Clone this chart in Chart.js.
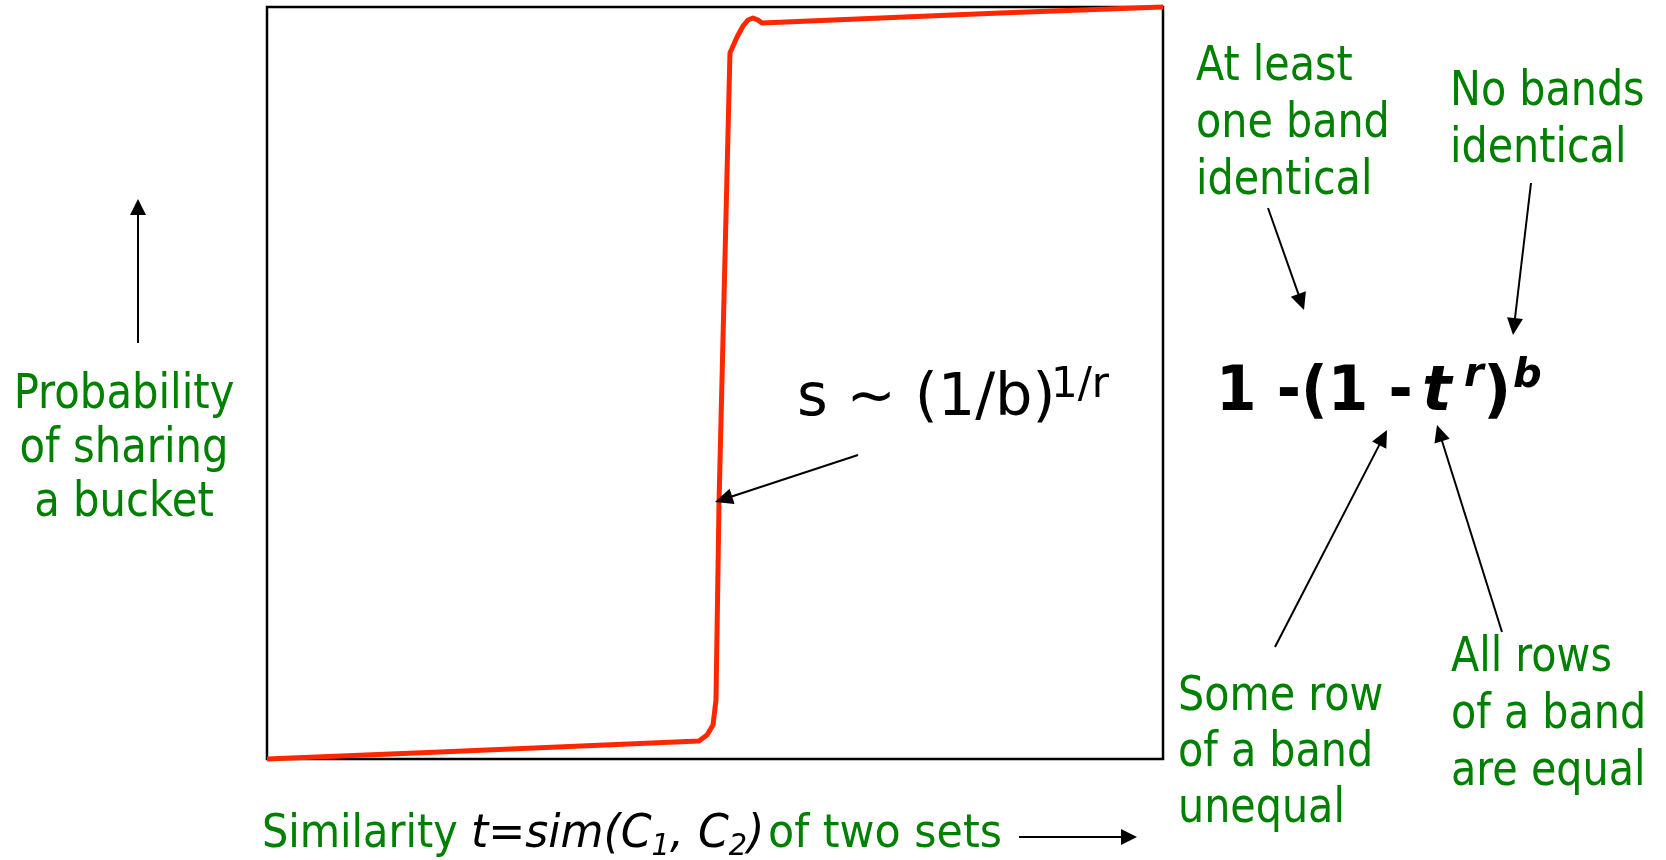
<!DOCTYPE html>
<html>
<head>
<meta charset="utf-8">
<script src="https://cdn.jsdelivr.net/npm/chart.js@4.4.1/dist/chart.umd.min.js"></script>
<style>
  html, body { margin: 0; padding: 0; background: #fff; }
  #wrap { width: 1666px; height: 860px; }
</style>
</head>
<body>
<div id="wrap"><canvas id="lsh" width="1666" height="860"></canvas></div>
<script>
// S-curve of LSH banding (similarity t vs probability)
const simT = [0, 0.1931, 0.4821, 0.4911, 0.4978, 0.5011, 0.5045, 0.5167, 0.5246, 0.5313, 0.5368, 0.5424, 0.548, 0.5525, 0.8181, 1.0];
const probShare = [0, 0.0093, 0.0239, 0.0319, 0.0452, 0.0785, 0.3418, 0.9388, 0.9601, 0.9747, 0.9827, 0.9854, 0.9827, 0.9787, 0.992, 1.0];

const GREEN = '#008000';
const greenFont = '48px "DejaVu Sans"';
const squeeze = 0.86;

function txt(ctx, s, x, y, font, color, sx, align) {
    ctx.save();
    ctx.font = font;
    ctx.fillStyle = color;
    ctx.textBaseline = 'alphabetic';
    ctx.translate(x, y);
    ctx.scale(sx || 1, 1);
    ctx.textAlign = align || 'left';
    ctx.fillText(s, 0, 0);
    ctx.restore();
}

// runs of [text, font, color, dy, sx, dx] laid out left to right, returns end x
function run(ctx, x, y, parts) {
    parts.forEach(p => {
        ctx.font = p[1];
        const sx = p[4] || 1;
        x += p[5] || 0;
        const w = ctx.measureText(p[0]).width * sx;
        txt(ctx, p[0], x, y + (p[3] || 0), p[1], p[2], sx);
        x += w;
    });
    return x;
}

function arrow(ctx, x1, y1, x2, y2, len, half) {
    const a = Math.atan2(y2 - y1, x2 - x1);
    ctx.save();
    ctx.strokeStyle = '#000';
    ctx.fillStyle = '#000';
    ctx.lineWidth = 2;
    ctx.beginPath();
    ctx.moveTo(x1, y1);
    ctx.lineTo(x2 - Math.cos(a) * len * 0.8, y2 - Math.sin(a) * len * 0.8);
    ctx.stroke();
    ctx.beginPath();
    ctx.moveTo(x2, y2);
    ctx.lineTo(x2 - Math.cos(a) * len - Math.sin(a) * half, y2 - Math.sin(a) * len + Math.cos(a) * half);
    ctx.lineTo(x2 - Math.cos(a) * len + Math.sin(a) * half, y2 - Math.sin(a) * len - Math.cos(a) * half);
    ctx.closePath();
    ctx.fill();
    ctx.restore();
}

const frame = {
    id: 'frame',
    beforeDatasetsDraw(chart) {
        const a = chart.chartArea, ctx = chart.ctx;
        ctx.save();
        ctx.strokeStyle = '#000';
        ctx.lineWidth = 2.5;
        ctx.strokeRect(a.left, a.top, a.right - a.left, a.bottom - a.top);
        ctx.restore();
    },
    afterDraw(chart) {
        const ctx = chart.ctx;

        // y-axis label + arrow
        ['Probability', 'of sharing', 'a bucket'].forEach((s, i) =>
            txt(ctx, s, 124, 408 + i * 54, greenFont, GREEN, 0.87, 'center'));
        arrow(ctx, 138, 343, 138, 199, 16, 8);

        // x-axis label + arrow
        const rf = '46px "DejaVu Sans"', it = 'italic 46px "DejaVu Sans"', sub = 'italic 30px "DejaVu Sans"';
        run(ctx, 262, 847, [
            ['Similarity ', rf, GREEN, 0, 0.9],
            ['t=sim(C', it, '#000', 0, 0.96],
            ['1', sub, '#000', 8, 0.96],
            [', C', it, '#000', 0, 0.96],
            ['2', sub, '#000', 8, 0.96],
            [')', it, '#000', 0, 0.96],
            [' of two sets', rf, GREEN, 0, 0.93, -10]
        ]);
        arrow(ctx, 1019, 837, 1137, 837, 16, 8);

        // threshold note
        txt(ctx, 's ~ (1/b)', 797, 415, '59px "DejaVu Sans"', '#000', 1);
        txt(ctx, '1/r', 1051, 397, '42px "DejaVu Sans"', '#000', 1);
        arrow(ctx, 858, 455, 715, 502, 18, 8);

        // formula
        const bf = 'bold 62px "DejaVu Sans"', bi = 'italic bold 62px "DejaVu Sans"', bs = 'italic bold 40px "DejaVu Sans"';
        txt(ctx, '1 -(1 -', 1216, 410, bf, '#000', 0.94);
        txt(ctx, 't', 1422, 410, bi, '#000', 1);
        txt(ctx, 'r', 1464, 386, bs, '#000', 1);
        txt(ctx, ')', 1483, 410, bf, '#000', 1);
        txt(ctx, 'b', 1513, 387, bs, '#000', 1);

        // callouts
        ['At least', 'one band', 'identical'].forEach((s, i) =>
            txt(ctx, s, 1196, 80 + i * 57, greenFont, GREEN, squeeze));
        ['No bands', 'identical'].forEach((s, i) =>
            txt(ctx, s, 1450, 105 + i * 57, greenFont, GREEN, squeeze));
        ['Some row', 'of a band', 'unequal'].forEach((s, i) =>
            txt(ctx, s, 1178, 710 + i * 56, greenFont, GREEN, squeeze));
        ['All rows', 'of a band', 'are equal'].forEach((s, i) =>
            txt(ctx, s, 1451, 671 + i * 57, greenFont, GREEN, squeeze));

        arrow(ctx, 1268, 208, 1304, 310, 17, 8);
        arrow(ctx, 1531, 183, 1513, 335, 17, 8);
        arrow(ctx, 1275, 647, 1387, 430, 17, 8);
        arrow(ctx, 1502, 632, 1437, 425, 17, 8);
    }
};

const ctx = document.getElementById('lsh').getContext('2d');
const lsh = new Chart(ctx, {
    type: 'scatter',
    data: {
        datasets: [{
            data: simT.map((t, i) => ({ x: t, y: probShare[i] })),
            showLine: true,
            borderColor: 'rgb(255, 38, 0)',
            borderWidth: 5,
            borderJoinStyle: 'round',
            pointRadius: 0,
            tension: 0,
            clip: false
        }]
    },
    options: {
        responsive: false,
        animation: false,
        layout: { padding: { left: 267, top: 7, right: 503, bottom: 101 } },
        scales: {
            x: { type: 'linear', min: 0, max: 1, display: false },
            y: { type: 'linear', min: 0, max: 1, display: false }
        },
        plugins: {
            legend: { display: false },
            tooltip: { enabled: false }
        }
    },
    plugins: [frame]
});
</script>
</body>
</html>
